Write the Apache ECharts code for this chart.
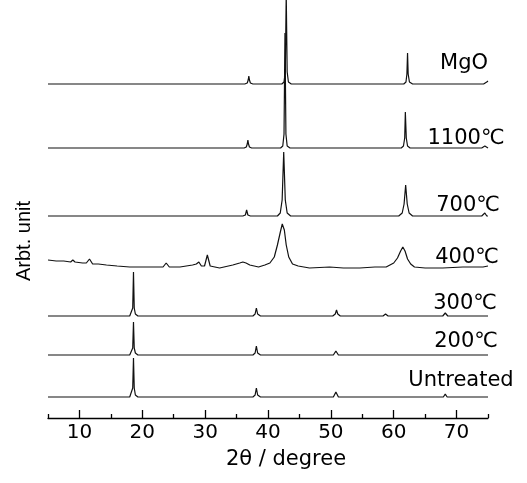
<!DOCTYPE html>
<html>
<head>
<meta charset="utf-8">
<script src="https://cdn.jsdelivr.net/npm/echarts@6/dist/echarts.min.js"></script>
<style>
  html, body { margin: 0; padding: 0; background: #fff; }
  #chart { width: 527px; height: 483px; }
</style>
</head>
<body>
<div id="chart"></div>
<script>
// sample names, top to bottom
var sampleNames = ['MgO', '1100℃', '700℃', '400℃', '300℃', '200℃', 'Untreated'];
// vertical stacking offset of every pattern (arb. units)
var offsets = [334, 270, 202, 151, 102, 63, 21];

// 2θ tick values
var majorTicks = [10, 20, 30, 40, 50, 60, 70];
var minorTicks = [5, 15, 25, 35, 45, 55, 65, 75];

// patterns: [2θ, intensity above own baseline]
var mgo = [[5,0],[20,0],[36.3,0],[36.7,1],[36.85,4],[36.95,8],[37.05,4],[37.2,1],[37.6,0],
  [42.2,0],[42.55,2],[42.75,12],[42.9,90],[43.05,12],[43.25,2],[43.7,0],
  [61.6,0],[61.95,2],[62.1,10],[62.2,31],[62.3,10],[62.5,2],[63.0,0],[74.3,0],[74.8,2],[75,3]];
var t1100 = [[5,0],[36.2,0],[36.55,1],[36.7,4],[36.8,8],[36.9,4],[37.05,1],[37.4,0],
  [42.0,0],[42.35,2],[42.55,14],[42.7,115],[42.85,14],[43.05,2],[43.5,0],
  [61.2,0],[61.55,2],[61.75,10],[61.85,36],[62.0,10],[62.2,2],[62.6,0],[74.0,0],[74.5,2],[74.8,0],[75,0]];
var t700 = [[5,0],[36.0,0],[36.4,1],[36.6,6],[36.8,1],[37.2,0],
  [41.5,0],[41.95,3],[42.25,16],[42.5,64],[42.75,16],[43.05,3],[43.6,0],
  [60.8,0],[61.35,3],[61.65,12],[61.9,31],[62.15,12],[62.45,3],[63.0,0],[74.0,0],[74.5,3],[74.8,0],[75,0]];
var t400 = [[5,7],[6.3,6],[7.5,6],[8.6,5],[8.95,7],[9.3,5],[10.5,4],[11.1,4],[11.6,8],[12.1,3],[13,3],
  [14.3,2],[16,1],[18,0],[21,0],[23.3,0],[23.8,4],[24.3,0],[26,0],[28,2],[28.6,3],[29.0,5],[29.4,1],
  [29.9,1],[30.35,12],[30.8,1],[32.3,-1],[34.4,2],[35.5,4],[36,5],[36.5,4],[37.1,2],[38.5,0],[39.5,2],
  [40.3,4],[41.0,10],[41.5,22],[42.0,36],[42.27,43],[42.6,37],[42.9,22],[43.3,10],[43.9,3],[44.8,1],
  [46.6,-1],[49.8,0],[52,-1],[54.6,-1],[57,0],[58.8,0],[60.0,4],[60.6,9],[61.1,16],[61.45,20],[61.8,16],
  [62.2,8],[62.7,3],[63.3,0],[65,-1],[67.8,-1],[71,0],[74.2,0],[75,1]];
var t300 = [[5,0],[18.0,0],[18.3,2],[18.48,8],[18.6,44],[18.72,8],[18.9,2],[19.3,0],[31,0],[31.2,1],[31.4,0],
  [37.6,0],[37.95,2],[38.15,8],[38.35,2],[38.8,0],[50.3,0],[50.7,2],[50.9,6],[51.1,2],[51.5,0],
  [58.3,0],[58.7,2],[59.1,0],[61.9,0],[62.2,1],[62.5,0],[67.8,0],[68.2,3],[68.6,0],[75,0]];
var t200 = [[5,0],[18.0,0],[18.3,2],[18.48,7],[18.6,33],[18.72,7],[18.9,2],[19.3,0],
  [37.6,0],[37.95,2],[38.15,9],[38.35,2],[38.8,0],[50.4,0],[50.8,4],[51.2,0],
  [58.4,0],[58.7,1],[59.0,0],[67.9,0],[68.2,2],[68.5,0],[75,0]];
var untreated = [[5,0],[18.0,0],[18.3,2],[18.48,9],[18.6,39],[18.72,9],[18.9,2],[19.3,0],
  [37.6,0],[37.95,2],[38.15,9],[38.35,2],[38.8,0],[50.4,0],[50.8,5],[51.2,0],
  [58.4,0],[58.7,1],[59.0,0],[67.9,0],[68.2,3],[68.5,0],[75,0]];

var patterns = [mgo, t1100, t700, t400, t300, t200, untreated];

var chart = echarts.init(document.getElementById('chart'));

var series = patterns.map(function (p, i) {
  return {
    name: sampleNames[i],
    type: 'line',
    xAxisIndex: 0,
    symbol: 'none',
    clip: true,
    lineStyle: { color: '#111', width: 1.2 },
    data: p.map(function (d) { return [d[0], d[1] + offsets[i]]; })
  };
});

// label places next to the right end of each pattern
var labelY = [64, 139, 206, 258, 304, 342, 381];
var labelX = [464, 466, 468, 467, 465, 466, 461];
var graphics = sampleNames.map(function (n, i) {
  return {
    type: 'text', x: labelX[i], y: labelY[i],
    style: { text: n, fill: '#000', font: '21px "DejaVu Sans"', align: 'center', verticalAlign: 'middle' }
  };
});
graphics.push({
  type: 'text', x: 286, y: 460,
  style: { text: '2θ / degree', fill: '#000', font: '21px "DejaVu Sans"', align: 'center', verticalAlign: 'middle' }
});
graphics.push({
  type: 'text', x: 24, y: 241, rotation: Math.PI / 2,
  style: { text: 'Arbt. unit', fill: '#000', font: '20px "Liberation Sans"', align: 'center', verticalAlign: 'middle' }
});

chart.setOption({
  animation: false,
  backgroundColor: '#fff',
  grid: { left: 48, right: 39, top: 0, bottom: 65 },
  xAxis: [{
    type: 'value', min: 5, max: 75,
    axisLine: { lineStyle: { color: '#000', width: 1.3 } },
    axisTick: { inside: true, length: 8, customValues: majorTicks, lineStyle: { color: '#000', width: 1.3 } },
    axisLabel: { customValues: majorTicks, margin: 5, color: '#000', fontSize: 20, fontFamily: 'DejaVu Sans' },
    splitLine: { show: false }
  }, {
    type: 'value', min: 5, max: 75, position: 'bottom',
    axisLine: { show: false },
    axisTick: { inside: true, length: 4, customValues: minorTicks, lineStyle: { color: '#000', width: 1.3 } },
    axisLabel: { show: false },
    splitLine: { show: false }
  }],
  yAxis: { type: 'value', min: 0, max: 418, show: false },
  graphic: graphics,
  series: series
});
</script>
</body>
</html>
